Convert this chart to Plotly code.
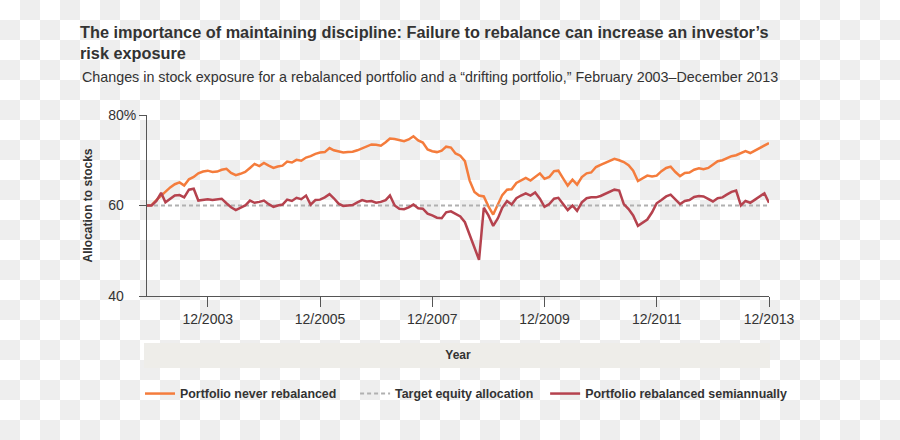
import pandas as pd
import plotly.graph_objects as go

# ---------------- data ----------------
months = pd.date_range("2002-11-01", "2013-12-01", freq="MS").strftime("%Y-%m-%d").tolist()

never_rebalanced = [
    60.0, 60.1, 61.2, 62.2, 63.2, 64.0, 64.7, 65.1, 64.4, 65.8,
    66.3, 67.1, 67.5, 67.7, 67.4, 67.5, 67.9, 68.1, 67.2, 66.7,
    67.0, 67.4, 68.3, 69.2, 68.7, 69.4, 68.8, 68.3, 68.6, 68.8,
    69.7, 69.5, 70.1, 69.9, 70.6, 70.9, 71.4, 71.7, 71.8, 72.7,
    72.2, 71.9, 71.7, 71.8, 71.9, 72.2, 72.7, 73.1, 73.5, 73.4,
    73.2, 74.0, 74.8, 74.7, 74.4, 74.2, 74.6, 75.3, 74.4, 73.9,
    72.4, 72.0, 71.8, 72.1, 73.0, 72.8, 71.5, 71.0, 69.8, 65.5,
    63.0, 62.2, 62.0, 59.8, 58.0, 60.3, 62.3, 63.5, 63.6, 65.0,
    65.5, 66.1, 65.5, 66.3, 67.1, 65.9, 66.3, 67.6, 67.7, 66.0,
    64.4, 65.7, 64.6, 66.3, 67.1, 67.3, 68.5, 69.0, 69.5, 70.0,
    70.3, 70.0, 69.6, 68.9, 67.7, 65.4, 66.0, 66.6, 66.4, 66.6,
    67.6, 68.3, 68.6, 67.4, 66.5, 67.2, 67.3, 67.9, 68.2, 68.0,
    68.3, 69.0, 69.8, 70.0, 70.4, 70.9, 71.1, 71.6, 72.0, 71.6,
    72.2, 72.8, 73.3, 73.8,
]

rebalanced_semiannually = [
    60.0, 60.0, 61.0, 62.8, 60.7, 61.5, 62.2, 62.3, 61.8, 63.5,
    63.7, 61.1, 61.2, 61.4, 61.2, 61.3, 61.5, 60.5, 59.6, 59.0,
    59.5, 60.0, 61.1, 60.6, 60.8, 61.1, 60.3, 59.7, 60.0, 60.2,
    61.3, 61.0, 61.7, 61.4, 62.2, 60.2, 61.2, 61.3, 61.8, 62.5,
    61.6, 60.4, 59.9, 60.0, 60.1, 60.7, 61.2, 60.9, 61.0, 60.6,
    60.8, 61.2, 62.2, 60.0, 59.3, 59.2, 59.6, 60.2, 59.4, 59.3,
    58.2, 57.8, 57.3, 57.2, 58.5, 58.7, 58.1, 57.6, 56.3, 53.5,
    50.5, 48.0, 59.5, 57.8, 55.5, 57.2, 59.5, 61.0, 60.2, 61.6,
    62.2, 62.7, 62.2, 62.9, 61.5, 59.7, 60.3, 61.5, 61.7, 60.2,
    59.0, 60.0, 58.8, 60.7, 61.6, 61.8, 61.8, 62.1, 62.6, 63.0,
    63.5, 63.3, 60.3, 59.2, 57.8, 55.5, 56.2, 56.9, 58.5, 60.5,
    61.2, 62.0, 62.4, 61.3, 60.3, 61.0, 61.2, 61.9, 62.1, 62.0,
    61.5, 60.9, 61.6, 61.8, 62.4, 63.0, 63.3, 60.0, 61.0, 60.6,
    61.3, 62.0, 62.7, 60.6,
]

target_dates = ["2002-11-01", "2013-12-01"]
target_allocation = [60, 60]

x_tick_dates = ["2003-12-01", "2005-12-01", "2007-12-01", "2009-12-01", "2011-12-01", "2013-12-01"]
x_tick_labels = ["12/2003", "12/2005", "12/2007", "12/2009", "12/2011", "12/2013"]
y_tick_values = [40, 60, 80]
HID = "<span style='color:rgba(0,0,0,0)'>%</span>"
y_tick_labels = ["40" + HID, "60" + HID, "80%"]

series_names = [
    "Portfolio never rebalanced",
    "Target equity allocation",
    "Portfolio rebalanced semiannually",
]
legend_pad = ["\u00a0" * 4, "\u00a0" * 2, ""]

# ---------------- style ----------------
FONT = "Liberation Sans, Arial, Helvetica, sans-serif"
TXT = "#333333"
ORANGE = "#f47c3c"
RED = "#b5424e"
GRAY = "#b0b0b0"
AX = "#555555"

W, H = 900, 440
ML, MR, MT, MB = 147, 131, 115, 144
PW, PH = W - ML - MR, H - MT - MB


def px_to_paper_x(px):
    return (px - ML) / PW


def px_to_paper_y(py):
    return (H - MB - py) / PH


# checkerboard background (transparent-image look of the reference)
cell = 20
parts = []
for r in range(H // cell + 1):
    for c in range(W // cell + 1):
        if (r + c) % 2 == 1:
            x0, x1 = px_to_paper_x(c * cell), px_to_paper_x(c * cell + cell)
            y0, y1 = px_to_paper_y(r * cell), px_to_paper_y(r * cell + cell)
            parts.append(f"M{x0:.5f},{y0:.5f}H{x1:.5f}V{y1:.5f}H{x0:.5f}Z")
checker_path = " ".join(parts)

fig = go.Figure()

fig.add_trace(go.Scatter(
    x=months, y=never_rebalanced, mode="lines",
    name=series_names[0] + legend_pad[0],
    line=dict(color=ORANGE, width=2.5),
))
fig.add_trace(go.Scatter(
    x=target_dates, y=target_allocation, mode="lines",
    name=series_names[1] + legend_pad[1],
    line=dict(color=GRAY, width=2, dash="4px,3px"),
))
fig.add_trace(go.Scatter(
    x=months, y=rebalanced_semiannually, mode="lines",
    name=series_names[2] + legend_pad[2],
    line=dict(color=RED, width=2.5),
))

fig.update_layout(
    width=W, height=H,
    margin=dict(l=ML, r=MR, t=MT, b=MB, pad=0),
    paper_bgcolor="white",
    plot_bgcolor="rgba(0,0,0,0)",
    font=dict(family=FONT, size=14, color=TXT),
    title=dict(
        text="<b>The importance of maintaining discipline: Failure to rebalance can increase an investor’s<br>risk exposure</b>",
        x=80 / W, xanchor="left", xref="container",
        y=1 - 38 / H, yanchor="top", yref="container",
        font=dict(family=FONT, size=16.3, color=TXT),
    ),
    annotations=[dict(
        text="Changes in stock exposure for a rebalanced portfolio and a “drifting portfolio,” February 2003–December 2013",
        xref="paper", yref="paper",
        x=px_to_paper_x(80), y=px_to_paper_y(77),
        xanchor="left", yanchor="middle", showarrow=False,
        font=dict(family=FONT, size=14.3, color=TXT),
    )],
    shapes=[
        dict(type="path", path=checker_path, xref="paper", yref="paper",
             fillcolor="#eeeeee", line=dict(width=0), layer="below"),
        dict(type="rect", xref="paper", yref="paper",
             x0=px_to_paper_x(144), x1=px_to_paper_x(770),
             y0=px_to_paper_y(343), y1=px_to_paper_y(368),
             fillcolor="#eeede9", line=dict(width=0), layer="below"),
    ],
    xaxis=dict(
        type="date",
        range=["2002-11-01", "2013-12-01"],
        tickvals=x_tick_dates, ticktext=x_tick_labels,
        ticks="outside", ticklen=10, tickcolor=AX, tickwidth=1,
        showline=True, linecolor=AX, linewidth=1,
        showgrid=False, zeroline=False,
        tickfont=dict(size=14, color=TXT),
        title=dict(text="<b>Year</b>", standoff=24, font=dict(size=12, color=TXT)),
    ),
    yaxis=dict(
        range=[40, 80],
        tickvals=y_tick_values, ticktext=y_tick_labels,
        ticks="outside", ticklen=7, tickcolor=AX, tickwidth=1,
        showline=True, linecolor=AX, linewidth=1,
        showgrid=False, zeroline=False,
        tickfont=dict(size=14, color=TXT),
        title=dict(text="<b>Allocation to stocks</b>", standoff=12, font=dict(size=12, color=TXT)),
    ),
    showlegend=True,
    legend=dict(
        orientation="h",
        xref="paper", yref="paper",
        x=px_to_paper_x(140), xanchor="left",
        y=px_to_paper_y(394), yanchor="middle",
        bgcolor="rgba(0,0,0,0)",
        font=dict(family=FONT, size=12.4, color=TXT, weight="bold"),
        itemwidth=30,
        traceorder="normal",
    ),
)

fig.write_html(
    "out.html",
    config={"displayModeBar": False},
    post_script="document.body.style.margin='0px';",
)
